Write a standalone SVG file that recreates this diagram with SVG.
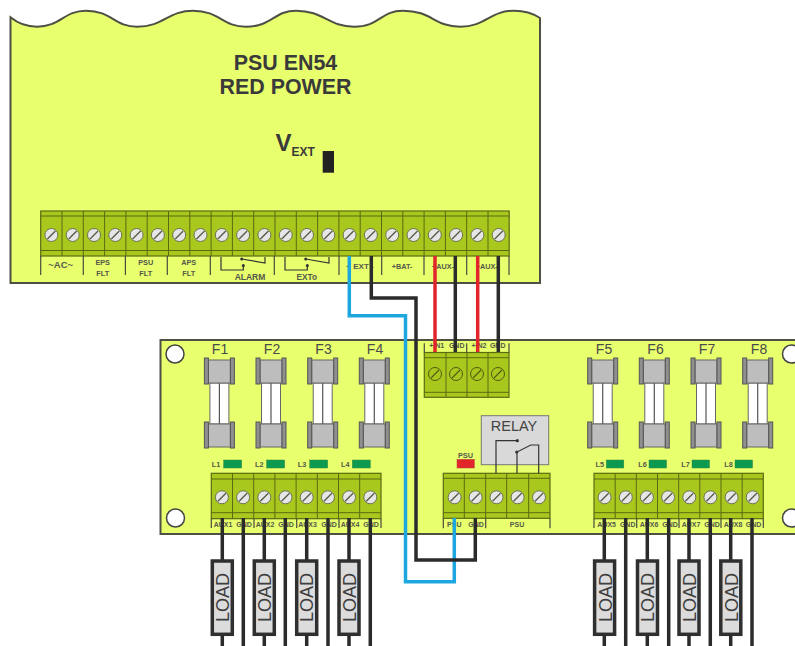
<svg xmlns="http://www.w3.org/2000/svg" xmlns:xlink="http://www.w3.org/1999/xlink" width="795" height="646" viewBox="0 0 795 646">
<style>
text{font-family:"Liberation Sans",Arial,sans-serif;text-anchor:middle;fill:#3a3a3a}
.board{fill:#e8ff6e;stroke:#4f4f45;stroke-width:2}
.term{fill:#a9c81e;stroke:#5a6a12;stroke-width:1.2}
.tl{fill:none;stroke:#5a6a12;stroke-width:1}
.tick{fill:none;stroke:#4a4a40;stroke-width:1.2}
.lb{font-size:7px;font-weight:bold;fill:#55584a}
.sm{font-size:7.3px;font-weight:bold;fill:#55584a}
.fl{font-size:14px;fill:#4a4a4a}
.led{fill:#0b9a50;stroke:#3b8a40;stroke-width:.5}
.w{fill:none;stroke-width:3.5;stroke-linejoin:miter}
.k{stroke:#2b2b2b}.b{stroke:#1ea7df}.r{stroke:#e2252b}
.ct{fill:none;stroke:#333;stroke-width:1.2}
.load{fill:#dcdcdc;stroke:#2f2f2f;stroke-width:3.5}
.lt{font-size:18px;fill:#3f3f3f}
</style>
<defs>
<g id="sc"><circle r="6.5" fill="#e6e6e6" stroke="#6b7350" stroke-width="1"/><path d="M-4 4L4-4" stroke="#55584a" stroke-width="1.3"/></g>
<g id="sc2"><circle r="6.5" fill="none" stroke="#4f5a12" stroke-width="1"/><path d="M-4 4L4-4" stroke="#4f5a12" stroke-width="1.1"/></g>
<g id="fu">
<rect x="-9.5" y="383" width="19" height="41" fill="#fff" stroke="#666" stroke-width="1"/>
<path d="M0 383V424" stroke="#555" stroke-width="1.2"/>
<g fill="#bdbdbd" stroke="#666" stroke-width="1"><rect x="-11" y="360" width="22" height="23"/><rect x="-11" y="424" width="22" height="23"/></g>
<g fill="#8f8f8f" stroke="#555" stroke-width="1"><rect x="-15" y="358" width="4" height="26"/><rect x="11" y="358" width="4" height="26"/><rect x="-15" y="422" width="4" height="26"/><rect x="11" y="422" width="4" height="26"/></g>
</g>
<g id="lo"><rect class="load" x="-10" y="561" width="20" height="73.300"/></g>
</defs>

<g id="psu-en54">
<path class="board" d="M10.500 17.300C18 23.500 27 26.700 37 26.700C60 26.700 64 10.700 86 10.700C112 10.700 114 26.700 137 26.700C164 26.700 168 10.700 193 10.700C220 10.700 222 26.700 246 26.700C272 26.700 274 10.700 296 10.700C324 10.700 328 26.700 354 26.700C380 26.700 380 10.700 403 10.700C432 10.700 434 26.700 460 26.700C486 26.700 490 10.700 514 10.700C526 10.700 534 14 540 18V283H10.500Z"/>
<text x="285.500" y="70" style="font-size:21.400px;font-weight:bold">PSU EN54</text>
<text x="285.500" y="94" style="font-size:21.400px;font-weight:bold">RED POWER</text>
<text x="275.500" y="151" style="font-size:24px;font-weight:bold;text-anchor:start">V<tspan dy="5" style="font-size:12px">EXT</tspan></text>
<rect x="322.700" y="151" width="11.300" height="21.700" fill="#222"/>
<rect class="term" x="40.700" y="211" width="468.500" height="45"/>
<path class="tl" d="M40.700 216H509.200M40.700 250.500H509.200M62 211V256M83.300 211V256M104.600 211V256M125.900 211V256M147.200 211V256M168.500 211V256M189.800 211V256M211.100 211V256M232.400 211V256M253.700 211V256M275 211V256M296.300 211V256M317.600 211V256M338.900 211V256M360.200 211V256M381.500 211V256M402.800 211V256M424.100 211V256M445.400 211V256M466.700 211V256M488 211V256"/>
<g>
<use href="#sc" x="51.400" y="235"/><use href="#sc" x="72.700" y="235"/><use href="#sc" x="94" y="235"/><use href="#sc" x="115.300" y="235"/><use href="#sc" x="136.600" y="235"/><use href="#sc" x="157.900" y="235"/><use href="#sc" x="179.200" y="235"/><use href="#sc" x="200.500" y="235"/><use href="#sc" x="221.800" y="235"/><use href="#sc" x="243.100" y="235"/><use href="#sc" x="264.400" y="235"/><use href="#sc" x="285.700" y="235"/><use href="#sc" x="307" y="235"/><use href="#sc" x="328.300" y="235"/><use href="#sc" x="349.600" y="235"/><use href="#sc" x="370.900" y="235"/><use href="#sc" x="392.200" y="235"/><use href="#sc" x="413.500" y="235"/><use href="#sc" x="434.800" y="235"/><use href="#sc" x="456.100" y="235"/><use href="#sc" x="477.400" y="235"/><use href="#sc" x="498.700" y="235"/>
</g>
<path class="tick" d="M40.700 256V275M83.300 256V275M125.400 256V275M167.300 256V275M210.300 256V275M274.300 256V275M339 256V275M381.700 256V275M424 256V275M466.700 256V275M509 256V275"/>
<text x="60.700" y="268" style="font-size:9.500px;font-weight:bold;fill:#55584a">~AC~</text>
<text class="sm" x="102.700" y="264.500">EPS</text><text class="sm" x="102.700" y="275.500">FLT</text>
<text class="sm" x="145.700" y="264.500">PSU</text><text class="sm" x="145.700" y="275.500">FLT</text>
<text class="sm" x="188.700" y="264.500">APS</text><text class="sm" x="188.700" y="275.500">FLT</text>
<path class="ct" d="M221 257V270H243.300V266M241.700 259L265 263V257"/><circle cx="243.300" cy="265.500" r="1.500" fill="#333"/><circle cx="241.700" cy="259" r="1.500" fill="#333"/>
<path class="ct" d="M285 257V270H307.300V266M305.700 259L329 263V257"/><circle cx="307.300" cy="265.500" r="1.500" fill="#333"/><circle cx="305.700" cy="259" r="1.500" fill="#333"/>
<text x="250" y="279.500" style="font-size:8.500px;font-weight:bold;fill:#55584a">ALARM</text>
<text x="306.700" y="279.500" style="font-size:8.300px;font-weight:bold;fill:#55584a">EXTo</text>
<text x="360" y="269" style="font-size:8px;font-weight:bold;fill:#55584a">+ EXT -</text>
<text class="sm" x="402" y="269">+BAT-</text>
<text class="sm" x="443" y="269">+AUX-</text>
<text class="sm" x="486.700" y="269">+AUX-</text>
</g>

<g id="fuse-board">
<path class="board" d="M796 340H160.500V534H796"/>
<circle cx="175" cy="354" r="9" fill="#fff" stroke="#444" stroke-width="1.500"/>
<circle cx="175.500" cy="518" r="9" fill="#fff" stroke="#444" stroke-width="1.500"/>
<circle cx="791.500" cy="354" r="9" fill="#fff" stroke="#444" stroke-width="1.500"/>
<circle cx="791.500" cy="518" r="9" fill="#fff" stroke="#444" stroke-width="1.500"/>
</g>

<g id="terminal-in">
<rect class="term" x="424.300" y="352.500" width="84.700" height="44.800"/>
<path class="tl" d="M424.300 357.700H509M424.300 392.300H509M446 352.500V397.300M467 352.500V397.300M488 352.500V397.300"/>
<use href="#sc2" x="435" y="374"/><use href="#sc2" x="456" y="374"/><use href="#sc2" x="477" y="374"/><use href="#sc2" x="498" y="374"/>
<path class="tick" d="M424.300 343.300V352.500M466.700 343.300V352.500M509 343.300V352.500"/>
<text class="lb" x="436.700" y="347.700">+IN1</text><text class="lb" x="456.700" y="347.700">GND</text><text class="lb" x="479" y="347.700">+IN2</text><text class="lb" x="497.700" y="347.700">GND</text>
</g>

<g id="fuse-f1"><use href="#fu" x="219.400"/><text class="fl" x="220" y="354.300">F1</text></g>
<g id="fuse-f2"><use href="#fu" x="271"/><text class="fl" x="272" y="354.300">F2</text></g>
<g id="fuse-f3"><use href="#fu" x="322.700"/><text class="fl" x="323.500" y="354.300">F3</text></g>
<g id="fuse-f4"><use href="#fu" x="374.300"/><text class="fl" x="375" y="354.300">F4</text></g>
<g id="fuse-f5"><use href="#fu" x="602.700"/><text class="fl" x="604" y="354.300">F5</text></g>
<g id="fuse-f6"><use href="#fu" x="654.300"/><text class="fl" x="655.500" y="354.300">F6</text></g>
<g id="fuse-f7"><use href="#fu" x="706"/><text class="fl" x="707" y="354.300">F7</text></g>
<g id="fuse-f8"><use href="#fu" x="757.700"/><text class="fl" x="759" y="354.300">F8</text></g>

<g id="leds">
<rect class="led" x="223.700" y="460" width="18" height="8"/><text class="sm" x="216" y="467">L1</text>
<rect class="led" x="266.700" y="460" width="18" height="8"/><text class="sm" x="259.300" y="467">L2</text>
<rect class="led" x="309.700" y="460" width="18" height="8"/><text class="sm" x="302" y="467">L3</text>
<rect class="led" x="352.300" y="460" width="18" height="8"/><text class="sm" x="345.300" y="467">L4</text>
<rect class="led" x="606.300" y="460" width="17.500" height="8"/><text class="sm" x="599.700" y="467">L5</text>
<rect class="led" x="649" y="460" width="17.500" height="8"/><text class="sm" x="642.500" y="467">L6</text>
<rect class="led" x="692" y="460" width="17.500" height="8"/><text class="sm" x="685.500" y="467">L7</text>
<rect class="led" x="735" y="460" width="17.500" height="8"/><text class="sm" x="728.500" y="467">L8</text>
<rect x="457" y="459.300" width="17.300" height="8.700" fill="#e2252b" stroke="#b8433a" stroke-width=".5"/><text class="sm" x="465.500" y="457.500">PSU</text>
</g>

<g id="terminal-left">
<rect class="term" x="211.300" y="473.300" width="169.700" height="45.400"/>
<path class="tl" d="M211.300 479H381M211.300 512.700H381M232.500 473.300V518.700M253.700 473.300V518.700M274.900 473.300V518.700M296.100 473.300V518.700M317.300 473.300V518.700M338.500 473.300V518.700M359.700 473.300V518.700"/>
<use href="#sc" x="221.900" y="497.300"/><use href="#sc" x="243.100" y="497.300"/><use href="#sc" x="264.300" y="497.300"/><use href="#sc" x="285.500" y="497.300"/><use href="#sc" x="306.700" y="497.300"/><use href="#sc" x="327.900" y="497.300"/><use href="#sc" x="349.100" y="497.300"/><use href="#sc" x="370.300" y="497.300"/>
<path class="tick" d="M211.300 518.700V528M254 518.700V528M296.700 518.700V528M339 518.700V528M381 518.700V528"/>
<text class="lb" x="223" y="526.700">AUX1</text><text class="lb" x="244" y="526.700">GND</text><text class="lb" x="265" y="526.700">AUX2</text><text class="lb" x="286" y="526.700">GND</text><text class="lb" x="307.500" y="526.700">AUX3</text><text class="lb" x="329" y="526.700">GND</text><text class="lb" x="350" y="526.700">AUX4</text><text class="lb" x="371" y="526.700">GND</text>
</g>

<g id="terminal-right">
<rect class="term" x="594" y="473.300" width="169.300" height="45.400"/>
<path class="tl" d="M594 479H763.300M594 512.700H763.300M615.200 473.300V518.700M636.300 473.300V518.700M657.500 473.300V518.700M678.700 473.300V518.700M699.800 473.300V518.700M721 473.300V518.700M742.200 473.300V518.700"/>
<use href="#sc" x="604.600" y="497.300"/><use href="#sc" x="625.800" y="497.300"/><use href="#sc" x="646.900" y="497.300"/><use href="#sc" x="668.100" y="497.300"/><use href="#sc" x="689.300" y="497.300"/><use href="#sc" x="710.400" y="497.300"/><use href="#sc" x="731.600" y="497.300"/><use href="#sc" x="752.700" y="497.300"/>
<path class="tick" d="M594 518.700V528M636.700 518.700V528M679 518.700V528M721 518.700V528M763.300 518.700V528"/>
<text class="lb" x="606.700" y="526.700">AUX5</text><text class="lb" x="627.700" y="526.700">GND</text><text class="lb" x="649" y="526.700">AUX6</text><text class="lb" x="670" y="526.700">GND</text><text class="lb" x="691" y="526.700">AUX7</text><text class="lb" x="712" y="526.700">GND</text><text class="lb" x="733" y="526.700">AUX8</text><text class="lb" x="753.500" y="526.700">GND</text>
</g>

<g id="terminal-psu">
<rect class="term" x="443.300" y="473.300" width="106.700" height="45"/>
<path class="tl" d="M443.300 478.300H550M443.300 512.700H550M464.300 473.300V518.300M485.700 473.300V518.300M506.700 473.300V518.300M528.700 473.300V518.300"/>
<use href="#sc" x="454.600" y="497.300"/><use href="#sc" x="475.600" y="497.300"/><use href="#sc" x="496.500" y="497.300"/><use href="#sc" x="517.600" y="497.300"/><use href="#sc" x="539" y="497.300"/>
<path class="tick" d="M443.300 518.300V528.300M485.700 518.300V528.300M550 518.300V528.300"/>
<text class="lb" x="454.300" y="526.700">PSU</text><text class="lb" x="476" y="526.700">GND</text><text class="lb" x="517" y="526.700">PSU</text>
</g>

<g id="relay">
<rect x="481.300" y="415.700" width="67.400" height="49" fill="#d9d9d9" stroke="#777" stroke-width="1"/>
<text x="514" y="431.300" style="font-size:14.500px;fill:#444">RELAY</text>
<path class="ct" d="M496 473.300V440.700H517.300M517 473.300V452L530.700 445H538.700V473.300"/>
<circle cx="517.300" cy="440.700" r="1.600" fill="#333"/><circle cx="516.700" cy="452" r="1.600" fill="#333"/>
</g>

<g id="connectors">
<path class="w b" d="M349.300 256V315.700H405.500V581.700H454.300V518"/>
<path class="w k" d="M371.300 256V298H416V560H475.300V518"/>
<path class="w r" d="M435 256V352"/><path class="w k" d="M455.300 256V352"/><path class="w r" d="M477.700 256V352"/><path class="w k" d="M498.300 256V352"/>
<path class="w k" d="M222.300 518V646M243.300 518V646M264.300 518V646M285.300 518V646M306.700 518V646M328 518V646M349 518V646M370.300 518V646M604.300 518V646M625.700 518V646M647.300 518V646M668.700 518V646M689 518V646M710.300 518V646M730.700 518V646M752 518V646"/>
</g>

<g id="load-1"><use href="#lo" x="222.300"/><text class="lt" transform="translate(229,597.500) rotate(-90)">LOAD</text></g>
<g id="load-2"><use href="#lo" x="264.300"/><text class="lt" transform="translate(271,597.500) rotate(-90)">LOAD</text></g>
<g id="load-3"><use href="#lo" x="306.700"/><text class="lt" transform="translate(313.400,597.500) rotate(-90)">LOAD</text></g>
<g id="load-4"><use href="#lo" x="349"/><text class="lt" transform="translate(355.700,597.500) rotate(-90)">LOAD</text></g>
<g id="load-5"><use href="#lo" x="604.600"/><text class="lt" transform="translate(611.500,597.500) rotate(-90)">LOAD</text></g>
<g id="load-6"><use href="#lo" x="647.500"/><text class="lt" transform="translate(654.300,597.500) rotate(-90)">LOAD</text></g>
<g id="load-7"><use href="#lo" x="689"/><text class="lt" transform="translate(695.800,597.500) rotate(-90)">LOAD</text></g>
<g id="load-8"><use href="#lo" x="730.800"/><text class="lt" transform="translate(737.600,597.500) rotate(-90)">LOAD</text></g>
</svg>
